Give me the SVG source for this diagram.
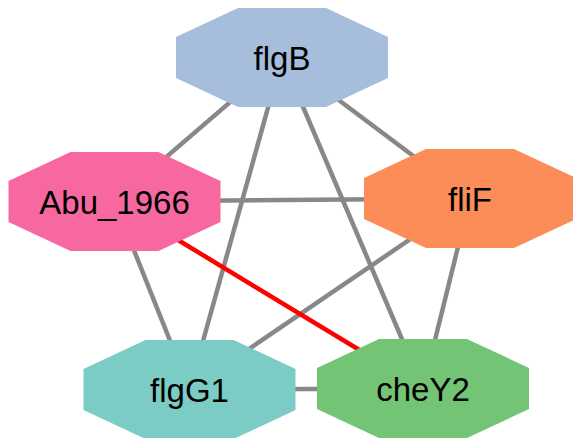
<svg xmlns="http://www.w3.org/2000/svg" xmlns:xlink="http://www.w3.org/1999/xlink" width="573" height="438" viewBox="0 0 573 438">
<style>
.e{stroke:#888888;stroke-width:4.5;fill:none}
.r{stroke:#FF0000;stroke-width:4.5;fill:none}
text{font-family:"Liberation Sans",Arial,sans-serif;font-size:33px;fill:#000;text-anchor:middle}
</style>
<defs>
<polygon id="oct" points="-44,-49.5 44,-49.5 106,-20.5 106,20.5 44,49.5 -44,49.5 -106,20.5 -106,-20.5"/>
</defs>
<rect width="573" height="438" fill="#ffffff"/>
<g id="edges">
<line class="e" x1="282" y1="57.5" x2="114.5" y2="201.5"/>
<line class="e" x1="282" y1="57.5" x2="470" y2="198.5"/>
<line class="e" x1="282" y1="57.5" x2="189.5" y2="389.5"/>
<line class="e" x1="282" y1="57.5" x2="423" y2="388.5"/>
<line class="e" x1="114.5" y1="201.5" x2="470" y2="198.5"/>
<line class="e" x1="114.5" y1="201.5" x2="189.5" y2="389.5"/>
<line class="e" x1="470" y1="198.5" x2="189.5" y2="389.5"/>
<line class="e" x1="470" y1="198.5" x2="423" y2="388.5"/>
<line class="e" x1="189.5" y1="389.5" x2="423" y2="388.5"/>
<line class="r" x1="114.5" y1="201.5" x2="423" y2="388.5"/>
</g>
<g id="flgB" transform="translate(282,57.5)"><use xlink:href="#oct" fill="#A6BDDB"/><text y="12">flgB</text></g>
<g id="Abu_1966" transform="translate(114.5,201.5)"><use xlink:href="#oct" fill="#F768A1"/><text y="12">Abu_1966</text></g>
<g id="fliF" transform="translate(470,198.5)"><use xlink:href="#oct" fill="#FC8D59"/><text y="12">fliF</text></g>
<g id="flgG1" transform="translate(189.5,389.5)"><use xlink:href="#oct" fill="#7BCCC4"/><text y="12">flgG1</text></g>
<g id="cheY2" transform="translate(423,388.5)"><use xlink:href="#oct" fill="#74C476"/><text y="12">cheY2</text></g>
</svg>
